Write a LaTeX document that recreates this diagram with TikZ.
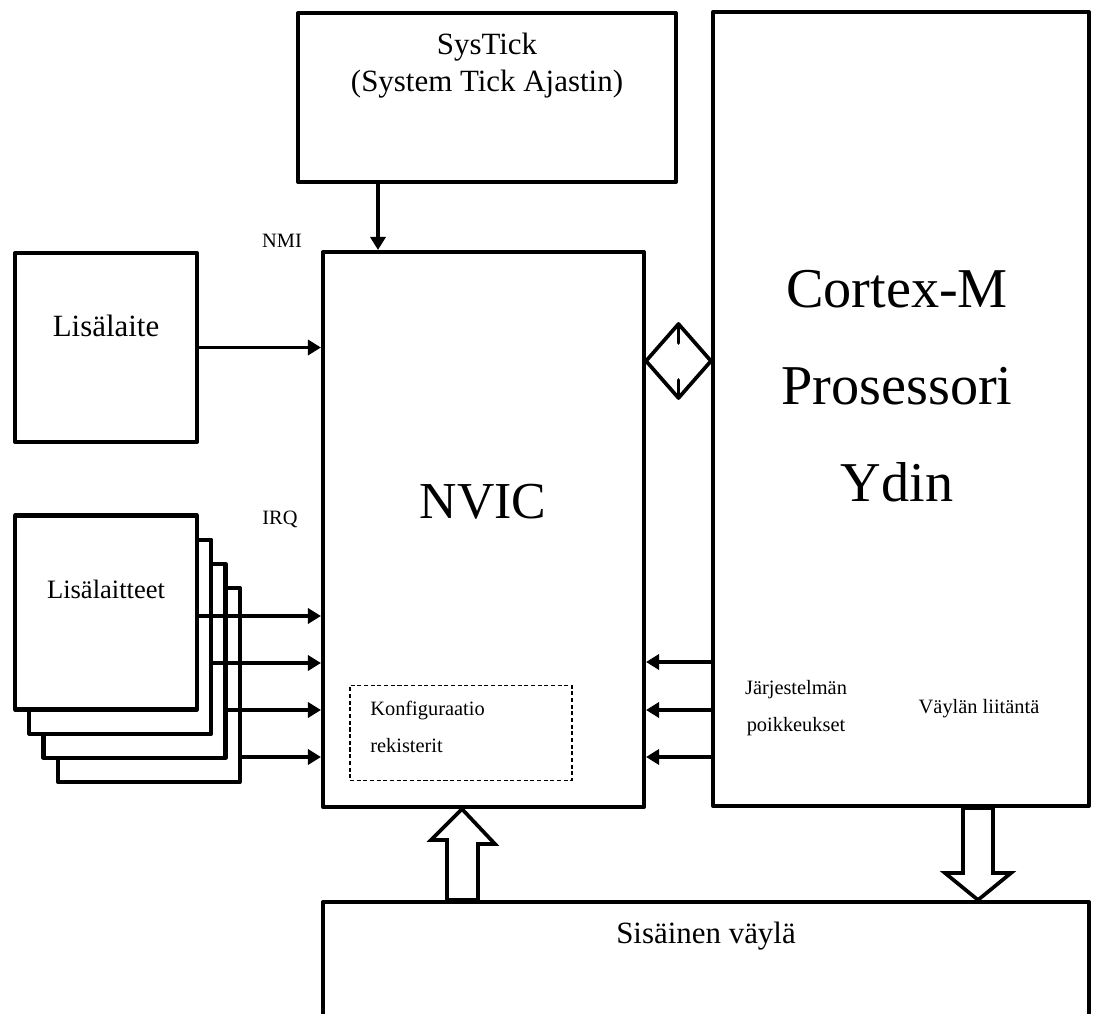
\documentclass[tikz,border=0pt]{standalone}
\usepackage{fontspec}
\setmainfont{Liberation Serif}
\usepackage{tikz}
\usetikzlibrary{arrows.meta,calc,positioning}

\begin{document}
\begin{tikzpicture}[
  unit/.style={draw=black,line width=2.3pt,line join=round,fill=white,
    inner sep=0pt},
  flow/.style={-{Triangle[length=2.6mm,width=3mm]},line width=2pt},
  blockarrow/.style={draw=black,line width=2.1pt,line join=miter,fill=white},
  lab/.style={inner sep=0pt,anchor=base},
  small/.style={lab,font=\fontsize{11.6}{14}\selectfont},
  mid/.style={lab,font=\fontsize{17.6}{21}\selectfont},
  huge/.style={lab,font=\fontsize{30}{36}\selectfont},
  regbox/.style={draw=black,line width=.6pt,dash pattern=on 2.3pt off 1.5pt,
    inner sep=0pt}
]
\useasboundingbox (0,0) rectangle (21.86,20.26);

% Main blocks
\node[unit,minimum width=7.56cm,minimum height=3.38cm] (systick)
  at (9.74,18.31) {};
\node[unit,minimum width=7.52cm,minimum height=15.88cm] (cortex)
  at (18.02,12.08) {};
\node[unit,minimum width=6.42cm,minimum height=11.1cm] (nvic)
  at (9.67,9.67) {};
\node[unit,minimum width=3.64cm,minimum height=3.78cm] (lisalaite)
  at (2.12,13.31) {};
\node[unit,minimum width=15.32cm,minimum height=2.8cm] (bus)
  at (14.12,.82) {};
\node[regbox,minimum width=4.44cm,minimum height=1.9cm] (regs)
  at (9.22,5.6) {};

% Stacked peripherals, back to front
\foreach \k in {4,3,2,1} {
  \node[unit,minimum width=3.64cm,minimum height=3.88cm] (stack-\k)
    at ({2.12+.285*(\k-1)},{8.01-.483*(\k-1)}) {};
}

% Texts
\node[mid] (systick-name) at (9.74,19.16) {SysTick};
\node[mid] (systick-long) at (9.74,18.42) {(System Tick Ajastin)};
\node[mid] (lisalaite-name) at (2.12,13.52) {Lisälaite};
\node[lab,font=\fontsize{15.1}{18}\selectfont] (stack-name)
  at (2.12,8.28) {Lisälaitteet};
\node[small] (nmi) at (5.64,15.3) {NMI};
\node[small] (irq) at (5.6,9.76) {IRQ};
\node[huge,font=\fontsize{29.5}{36}\selectfont] (nvic-name)
  at (9.66,9.88) {NVIC};
\node[small,anchor=base west] (regs-1) at (7.4,5.96) {Konfiguraatio};
\node[small,anchor=base west] (regs-2) at (7.4,5.22) {rekisterit};
\node[huge,font=\fontsize{32}{38}\selectfont] (core-1) at (17.94,14.1)
  {Cortex-M};
\node[huge,font=\fontsize{32}{38}\selectfont] (core-2) at (17.94,12.16)
  {Prosessori};
\node[huge,font=\fontsize{32}{38}\selectfont] (core-3) at (17.94,10.22)
  {Ydin};
\node[small] (exc-1) at (15.92,6.38) {Järjestelmän};
\node[small] (exc-2) at (15.92,5.64) {poikkeukset};
\node[small] (busif) at (19.58,6.0) {Väylän liitäntä};
\node[mid] (bus-name) at (14.12,1.4) {Sisäinen väylä};

% Interrupt lines
\draw[flow] (systick.south -| 7.56,0) -- (nvic.north -| 7.56,0);
\draw[flow] (lisalaite.east) -- (lisalaite.east -| nvic.west);
\foreach \k/\y in {1/7.94,2/7.0,3/6.06,4/5.12} {
  \draw[flow] (stack-\k.east |- 0,\y) -- (nvic.west |- 0,\y);
}
\foreach \y in {7.02,6.06,5.12} {
  \draw[flow] (cortex.west |- 0,\y) -- (nvic.east |- 0,\y);
}

% Link between NVIC and core
\coordinate (link-l) at (nvic.east |- 0,13.04);
\coordinate (link-r) at (cortex.west |- 0,13.04);
\coordinate (link-t) at ($(link-l)!.5!(link-r)+(0,.74)$);
\coordinate (link-b) at ($(link-l)!.5!(link-r)+(0,-.74)$);
\draw[line width=2.1pt,line join=round]
  (link-l) -- (link-t) -- (link-r) -- (link-b) -- cycle;
\draw[line width=2.1pt,line cap=round] (link-t) -- ++(0,-.38);
\draw[line width=2.1pt,line cap=round] (link-b) -- ++(0,.36);

% Bus arrows
\draw[blockarrow] (nvic.south -| 9.24,0) -- ++(.66,-.7) -- ++(-.34,0)
  -- (bus.north -| 9.56,0) -- (bus.north -| 8.94,0) -- ++(0,1.2)
  -- ++(-.32,0) -- cycle;
\draw[blockarrow] (cortex.south -| 19.26,0) -- (cortex.south -| 19.86,0)
  -- (19.86,2.8) -- (20.22,2.8) -- (bus.north -| 19.56,0)
  -- (18.9,2.8) -- (19.26,2.8) -- cycle;
\end{tikzpicture}
\end{document}
